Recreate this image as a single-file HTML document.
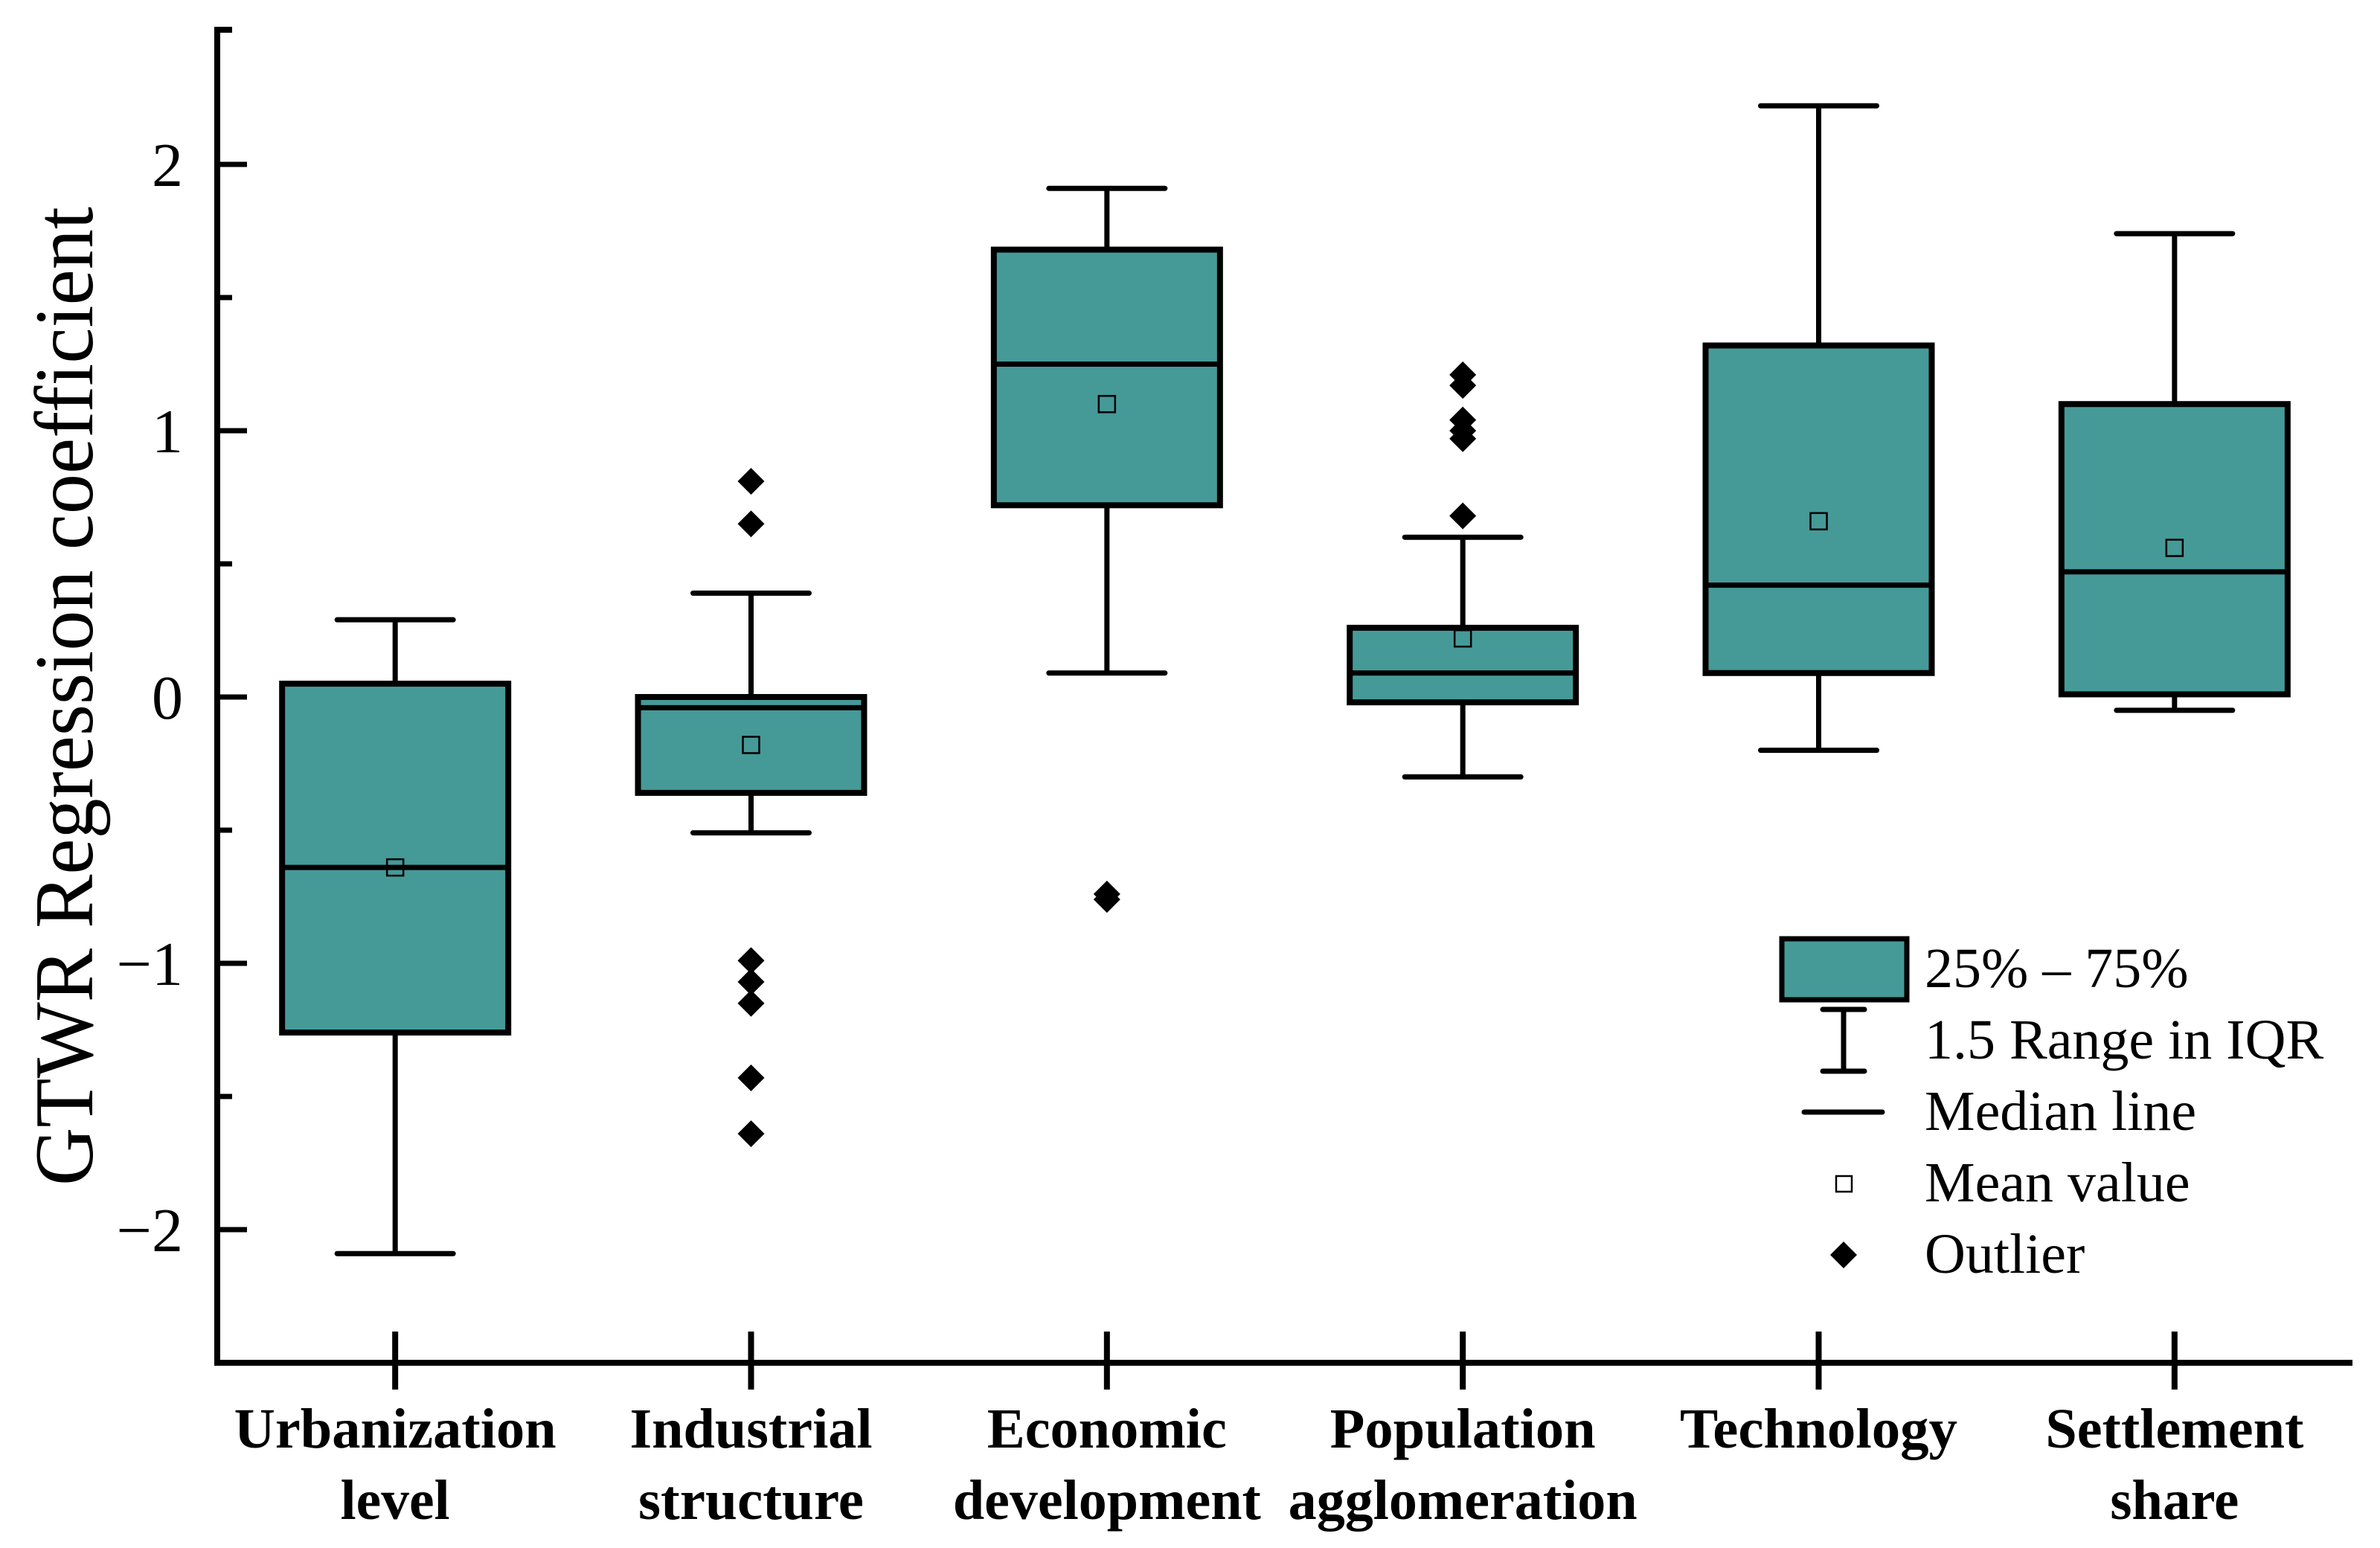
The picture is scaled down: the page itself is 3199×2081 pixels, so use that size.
<!DOCTYPE html>
<html><head><meta charset="utf-8"><style>
html,body{margin:0;padding:0;background:#fff}
svg{display:block}
</style></head><body>
<svg id="chart" xmlns="http://www.w3.org/2000/svg" width="3199" height="2081" viewBox="0 0 3199 2081" font-family="'Liberation Serif', serif">
<g id="plot"></g>
<text transform="translate(124,1594) rotate(-90)" font-size="112" textLength="1316" lengthAdjust="spacingAndGlyphs">GTWR  Regression coefficient</text>
<g>
  <rect x="2395" y="1262" width="168" height="82" fill="#459a98" stroke="#000" stroke-width="7"/>
  <text x="2587" y="1327" font-size="76">25% – 75%</text>
  <g stroke="#000" stroke-width="7" stroke-linecap="round">
    <line x1="2478" y1="1357" x2="2478" y2="1440"/><line x1="2450" y1="1357" x2="2506" y2="1357"/><line x1="2450" y1="1440" x2="2506" y2="1440"/>
  </g>
  <text x="2587" y="1423" font-size="76">1.5 Range in IQR</text>
  <line x1="2425" y1="1495" x2="2530" y2="1495" stroke="#000" stroke-width="7" stroke-linecap="round"/>
  <text x="2587" y="1519" font-size="76">Median line</text>
  <rect x="2468" y="1581" width="21" height="21" fill="#fff" stroke="#000" stroke-width="2.5"/>
  <text x="2587" y="1615" font-size="76">Mean value</text>
  <path d="M2478 1669 L2496 1687 L2478 1705 L2460 1687 Z" fill="#000"/>
  <text x="2587" y="1711" font-size="76">Outlier</text>
</g>
</svg>
<script>
const categories = [["Urbanization","level"],["Industrial","structure"],["Economic","development"],["Population","agglomeration"],["Technology"],["Settlement","share"]];
const whiskerHigh = [0.29, 0.39, 1.91, 0.60, 2.22, 1.74];
const whiskerLow = [-2.09, -0.51, 0.09, -0.30, -0.20, -0.05];
const q3 = [0.05, 0.00, 1.68, 0.26, 1.32, 1.10];
const q1 = [-1.26, -0.36, 0.72, -0.02, 0.09, 0.01];
const medians = [-0.64, -0.04, 1.25, 0.09, 0.42, 0.47];
const means = [-0.64, -0.18, 1.10, 0.22, 0.66, 0.56];
const outliers = [[], [0.81, 0.65, -0.99, -1.07, -1.15, -1.43, -1.64], [-0.74, -0.76], [1.21, 1.17, 1.04, 1.00, 0.97, 0.68], [], []];
const yTicks = [-2, -1, 0, 1, 2];
const yTickLabels = ["\u22122", "\u22121", "0", "1", "2"];
const labelWidths = [[433,147],[326,303],[322,414],[357,469],[373],[347,173]];

const NS = "http://www.w3.org/2000/svg";
const X0 = 292, X1 = 3162, YTOP = 42, YBOT = 1832, YMIN = -2.5, YMAX = 2.5;
const band = (X1 - X0) / categories.length;
const xs = i => X0 + band * (i + 0.5);
const ys = v => YBOT - (v - YMIN) / (YMAX - YMIN) * (YBOT - YTOP);
const plot = document.getElementById("plot");
function mk(tag, attrs, parent) {
  const e = document.createElementNS(NS, tag);
  for (const k in attrs) e.setAttribute(k, attrs[k]);
  (parent || plot).appendChild(e);
  return e;
}
const BW = 304, CW = 156;
categories.forEach((c, i) => {
  const cx = xs(i);
  const g = mk("g", {});
  
  
  const w1 = mk("line", {x1: cx, x2: cx, y1: ys(whiskerHigh[i]), y2: ys(q3[i]), stroke: "#000", "stroke-width": 7}, g);
  
  
  const w2 = mk("line", {x1: cx, x2: cx, y1: ys(q1[i]), y2: ys(whiskerLow[i]), stroke: "#000", "stroke-width": 7}, g);
  
  
  const c1 = mk("line", {x1: cx - CW/2, x2: cx + CW/2, y1: ys(whiskerHigh[i]), y2: ys(whiskerHigh[i]), stroke: "#000", "stroke-width": 7, "stroke-linecap": "round"}, g);
  
  
  const c2 = mk("line", {x1: cx - CW/2, x2: cx + CW/2, y1: ys(whiskerLow[i]), y2: ys(whiskerLow[i]), stroke: "#000", "stroke-width": 7, "stroke-linecap": "round"}, g);
  
  
  const b = mk("rect", {x: cx - BW/2, y: ys(q3[i]), width: BW, height: ys(q1[i]) - ys(q3[i]), fill: "#459a98", stroke: "#000", "stroke-width": 8}, g);
  
  
  const m = mk("line", {x1: cx - BW/2, x2: cx + BW/2, y1: ys(medians[i]), y2: ys(medians[i]), stroke: "#000", "stroke-width": 7}, g);
  
  
  const mn = mk("rect", {x: cx - 11, y: ys(means[i]) - 11, width: 22, height: 22, fill: "none", stroke: "#000", "stroke-width": 2.5}, g);
  
  
  outliers[i].forEach(v => {
    const y = ys(v);
    const o = mk("path", {d: `M${cx} ${y-18} L${cx+18} ${y} L${cx} ${y+18} L${cx-18} ${y} Z`, fill: "#000"}, g);
    
    
  });
  const t = mk("line", {x1: cx, x2: cx, y1: YBOT - 42, y2: YBOT + 36, stroke: "#000", "stroke-width": 8});
  
  
  c.forEach((line, j) => {
    const tx = mk("text", {x: cx, y: 1946 + j * 96, "text-anchor": "middle", "font-size": 76, "font-weight": "bold", textLength: labelWidths[i][j], lengthAdjust: "spacingAndGlyphs"});
    
    
    tx.textContent = line;
  });
});
const ya = mk("polyline", {points: `${X0 + 20},${YTOP - 2} ${X0},${YTOP - 2} ${X0},${YBOT} ${X1},${YBOT}`, fill: "none", stroke: "#000", "stroke-width": 8});


for (let v = -2; v <= 2; v += 0.5) {
  const major = Number.isInteger(v);
  const tk = mk("line", {x1: X0, x2: X0 + (major ? 40 : 20), y1: ys(v), y2: ys(v), stroke: "#000", "stroke-width": 7});
  
  
}
yTicks.forEach((v, k) => {
  const tl = mk("text", {x: 246, y: ys(v) + 29, "text-anchor": "end", "font-size": 84});
  
  
  tl.textContent = yTickLabels[k];
});
</script>
</body></html>
